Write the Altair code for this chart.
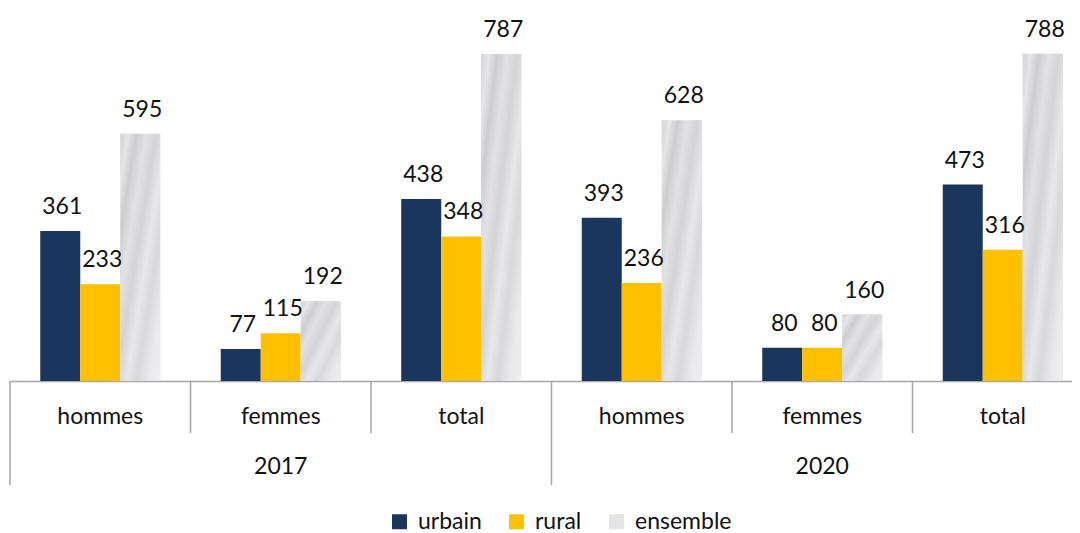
import altair as alt
import pandas as pd

groups = ["hommes", "femmes", "total"]
years = ["2017", "2020"]
series = ["urbain", "rural", "ensemble"]
urbain = [361, 77, 438, 393, 80, 473]
rural = [233, 115, 348, 236, 80, 316]
ensemble = [595, 192, 787, 628, 160, 788]
colors = ["#1B365D", "#FFC000", "#E4E4E6"]

FONT = "Lato"
FS = 23
keys = [f"{y} {g}" for y in years for g in groups]

rows = []
for i, k in enumerate(keys):
    for s, vals in zip(series, [urbain, rural, ensemble]):
        rows.append({"key": k, "serie": s, "value": vals[i]})
df = pd.DataFrame(rows)

grp_df = pd.DataFrame({"key": keys, "label": [g for y in years for g in groups]})
year_df = pd.DataFrame({"key": [f"{y} femmes" for y in years], "label": years})
inner_df = pd.DataFrame({"key": [k for i, k in enumerate(keys) if i % 3 != 0]})
outer_df = pd.DataFrame({"key": [k for i, k in enumerate(keys) if i % 3 == 0]})

xscale = alt.Scale(domain=keys, range=[0, 1083], paddingInner=0, paddingOuter=0)


def xenc(**kw):
    return alt.X("key:N", sort=keys, scale=xscale,
                 axis=alt.Axis(labels=False, ticks=False, title=None, grid=False,
                               domainColor="#A6A6A6", domainWidth=1.5), **kw)


xoff = alt.XOffset("serie:N", sort=series,
                   scale=alt.Scale(domain=series, paddingOuter=0.756, paddingInner=0))
yenc = alt.Y("value:Q", scale=alt.Scale(domain=[0, 898], nice=False),
             axis=None)

bars = alt.Chart(df).mark_bar().encode(
    x=xenc(), xOffset=xoff, y=yenc,
    color=alt.Color("serie:N", sort=series,
                    scale=alt.Scale(domain=series, range=colors),
                    legend=alt.Legend(orient="none", legendX=378, legendY=502,
                                      direction="horizontal", title=None,
                                      symbolType="square", symbolSize=225,
                                      symbolStrokeWidth=0, labelFontSize=FS,
                                      labelFont=FONT, labelColor="#111111",
                                      labelOffset=7, columnPadding=23, padding=0)),
)

marble = alt.Chart(df).transform_filter(alt.datum.serie == "ensemble").mark_bar(
    color=alt.LinearGradient(
        gradient="linear",
        stops=[
            alt.GradientStop(offset=0, color="#d3d3d6"),
            alt.GradientStop(offset=0.1, color="#e6e6e8"),
            alt.GradientStop(offset=0.2, color="#cdcdd0"),
            alt.GradientStop(offset=0.32, color="#e2e2e4"),
            alt.GradientStop(offset=0.45, color="#d4d4d7"),
            alt.GradientStop(offset=0.58, color="#e8e8ea"),
            alt.GradientStop(offset=0.7, color="#d8d8db"),
            alt.GradientStop(offset=0.85, color="#e9e9eb"),
            alt.GradientStop(offset=1, color="#efeff1"),
        ],
        x1=0, y1=0, x2=1, y2=1,
    )
).encode(x=xenc(), xOffset=xoff, y=yenc)

labels = alt.Chart(df).mark_text(
    baseline="alphabetic", align="center", dy=-17, dx=2,
    font=FONT, fontSize=FS, color="#111111"
).encode(x=xenc(), xOffset=xoff, y=yenc, text="value:Q")

inner_rules = alt.Chart(inner_df).mark_rule(color="#A6A6A6", strokeWidth=1.5).encode(
    x=xenc(bandPosition=0), y=alt.value(373), y2=alt.value(425))
outer_rules = alt.Chart(outer_df).mark_rule(color="#A6A6A6", strokeWidth=1.5).encode(
    x=xenc(bandPosition=0), y=alt.value(373), y2=alt.value(477))

grp_text = alt.Chart(grp_df).mark_text(
    baseline="middle", align="center", font=FONT, fontSize=FS, color="#111111"
).encode(x=xenc(), y=alt.value(409), text="label:N")
year_text = alt.Chart(year_df).mark_text(
    baseline="middle", align="center", font=FONT, fontSize=FS, color="#111111"
).encode(x=xenc(), y=alt.value(459), text="label:N")

chart = alt.layer(bars, marble, labels, inner_rules, outer_rules, grp_text, year_text).properties(
    width=1062, height=373,
    autosize=alt.AutoSizeParams(type="none"),
    padding={"left": 2, "top": 0, "right": 0, "bottom": 152},
).configure_view(stroke=None)

chart.save("out.html", embed_options={"renderer": "svg", "actions": False})
